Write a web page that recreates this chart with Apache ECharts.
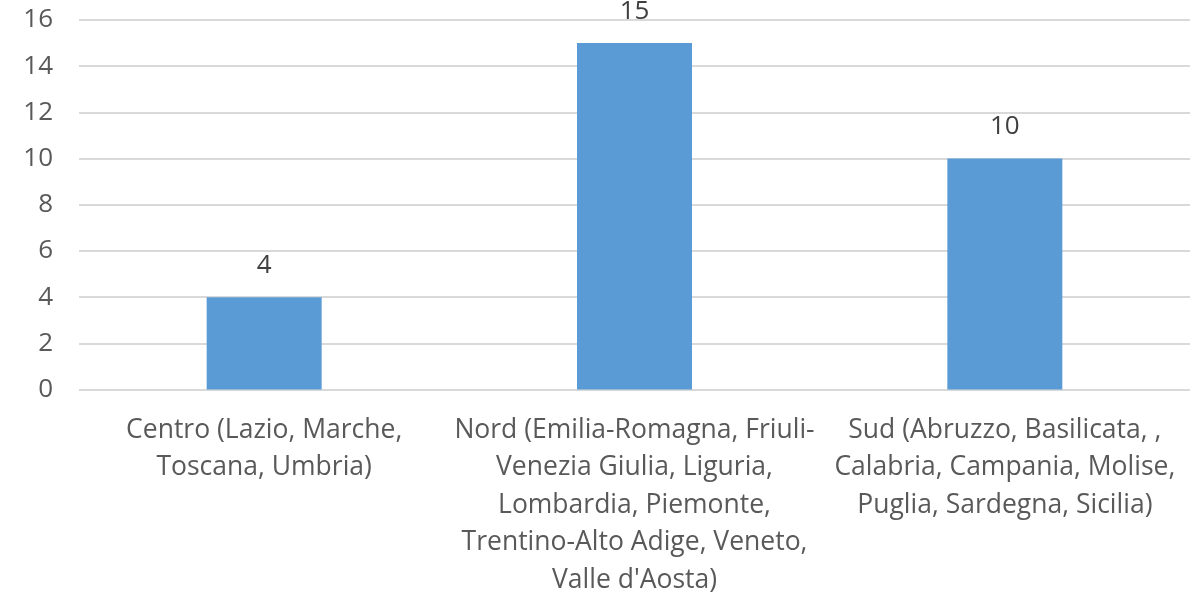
<!DOCTYPE html>
<html>
<head>
<meta charset="utf-8">
<script src="https://cdn.jsdelivr.net/npm/echarts@6/dist/echarts.min.js"></script>
<style>html,body{margin:0;padding:0;background:#fff}#c{width:1198px;height:594px}</style>
</head>
<body>
<div id="c"></div>
<script>
const categories = [
  "Centro (Lazio, Marche,\nToscana, Umbria)",
  "Nord (Emilia-Romagna, Friuli-\nVenezia Giulia, Liguria,\nLombardia, Piemonte,\nTrentino-Alto Adige, Veneto,\nValle d'Aosta)",
  "Sud (Abruzzo, Basilicata, ,\nCalabria, Campania, Molise,\nPuglia, Sardegna, Sicilia)"
];
const values = [4, 15, 10];
const yMin = 0, yMax = 16, yStep = 2;

const FONT = 'Open Sans';
const chart = echarts.init(document.getElementById('c'), null, {renderer: 'canvas'});
chart.setOption({
  animation: false,
  grid: {left: 79, right: 8, top: 20, bottom: 204.5, containLabel: false, outerBoundsMode: 'none'},
  xAxis: {
    type: 'category',
    data: categories,
    axisLine: {show: false},
    axisTick: {show: false},
    axisLabel: {
      interval: 0,
      color: '#595959',
      fontFamily: FONT,
      fontSize: 26.5,
      lineHeight: 37.5,
      margin: 22,
      align: 'center'
    }
  },
  yAxis: {
    type: 'value',
    min: yMin, max: yMax, interval: yStep,
    axisLine: {show: false},
    axisTick: {show: false},
    splitLine: {lineStyle: {color: '#D9D9D9', width: 2}},
    axisLabel: {color: '#595959', fontFamily: FONT, fontSize: 26, margin: 26}
  },
  series: [{
    type: 'bar',
    data: values,
    barWidth: 115,
    itemStyle: {color: '#5B9BD5'},
    label: {
      show: true,
      position: 'top',
      distance: 19,
      color: '#404040',
      fontFamily: FONT,
      fontSize: 26
    }
  }]
});
</script>
</body>
</html>
